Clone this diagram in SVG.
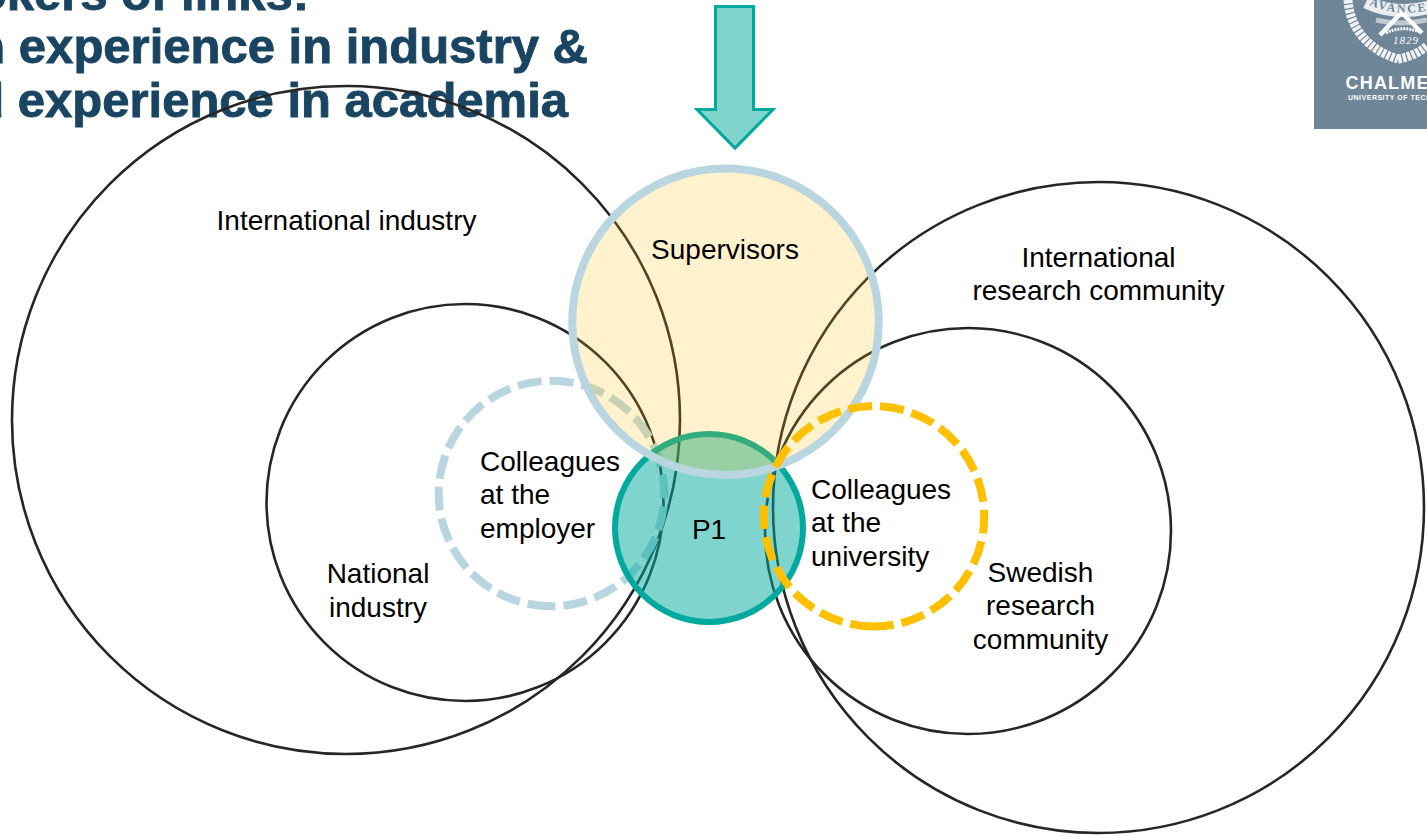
<svg xmlns="http://www.w3.org/2000/svg" width="1427" height="836" viewBox="0 0 1427 836">
<style>
text{font-family:"Liberation Sans",Arial,sans-serif}
.t{font-size:28px;fill:#000}
.h{font-size:49px;font-weight:700;fill:#1A4562;stroke:#1A4562;stroke-width:.9}
.c{fill:none;stroke:#262626;stroke-width:2.6}
.d{fill:none;stroke-width:8;stroke-dasharray:24 8}
</style>
<rect width="1427" height="836" fill="#fff"/>
<g id="title">
<text class="h" x="309" y="10" text-anchor="end">okers of links:</text>
<text class="h" x="588" y="63" text-anchor="end">n experience in industry &amp;</text>
<text class="h" x="568" y="117" text-anchor="end">d experience in academia</text>
</g>
<g id="logo">
<rect x="1314" y="0" width="113" height="129" fill="#6F8598"/>
<path d="M1348 0C1350 28 1368 50 1398 59" fill="none" stroke="#fff" stroke-opacity=".9" stroke-width="9" stroke-dasharray="3.500 1.200"/>
<path d="M1398 59C1410 57 1420 52 1427 46" fill="none" stroke="#fff" stroke-opacity=".9" stroke-width="9" stroke-dasharray="3.500 1.200"/>
<path d="M1366 2Q1396 16 1430 7" fill="none" stroke="#fff" stroke-opacity=".85" stroke-width="13"/>
<path d="M1376 20Q1400 26 1427 20" fill="none" stroke="#fff" stroke-opacity=".55" stroke-width="5"/>
<path d="M1380 35L1403 11M1422 33L1400 11" stroke="#fff" stroke-width="4.500" fill="none"/>
<path d="M1386 33Q1402 25 1420 32" stroke="#fff" stroke-width="3" stroke-dasharray="2 1" fill="none"/>
<path id="ribbon-line" d="M1369 5Q1396 17 1432 10" fill="none"/>
<text font-size="12" font-weight="700" fill="#6F8598" letter-spacing="2" style="font-family:'Liberation Serif',serif"><textPath href="#ribbon-line">AVANCEZ</textPath></text>
<text x="1393" y="44" font-size="11" font-style="italic" fill="#fff" letter-spacing="1" style="font-family:'Liberation Serif',serif">1829</text>
<text x="1345.500" y="89" font-size="18" font-weight="700" fill="#fff" letter-spacing="1.200">CHALMERS</text>
<text x="1348" y="100" font-size="7" font-weight="700" fill="#fff" letter-spacing=".5">UNIVERSITY OF TECHNOLOGY</text>
</g>
<g id="connectors">
<path id="arrow" d="M715.500 6.500H753.500V109.500H773L735 148L697 109.500H715.500Z" fill="#80D4CC" stroke="#00A99D" stroke-width="3"/>
</g>
<g id="international-industry"><circle class="c" cx="346" cy="420" r="334"/><text class="t" x="346.500" y="230" text-anchor="middle">International industry</text></g>
<g id="national-industry"><circle class="c" cx="465" cy="502.500" r="198.500"/><text class="t" x="378" y="583" text-anchor="middle">National</text><text class="t" x="378" y="617" text-anchor="middle">industry</text></g>
<g id="international-research"><circle class="c" cx="1098.500" cy="507.500" r="325.500"/><text class="t" x="1098.500" y="267" text-anchor="middle">International</text><text class="t" x="1098.500" y="300" text-anchor="middle">research community</text></g>
<g id="swedish-research"><circle class="c" cx="968" cy="531" r="203"/><text class="t" x="1040.500" y="582" text-anchor="middle">Swedish</text><text class="t" x="1040.500" y="615" text-anchor="middle">research</text><text class="t" x="1040.500" y="649" text-anchor="middle">community</text></g>
<g id="colleagues-employer"><circle class="d" cx="551.500" cy="493.500" r="112.800" stroke="#B9D6E0" transform="rotate(90 551.500 493.500)"/><text class="t" x="480" y="471">Colleagues</text><text class="t" x="480" y="504">at the</text><text class="t" x="480" y="538">employer</text></g>
<g id="p1"><circle cx="709" cy="528" r="94" fill="#00A99D" fill-opacity=".5" stroke="#00A99D" stroke-width="6"/><text class="t" x="709" y="539" text-anchor="middle">P1</text></g>
<g id="supervisors"><circle cx="725.500" cy="321.800" r="153.300" fill="#FFC000" fill-opacity=".2" stroke="#B9D6E0" stroke-width="8"/><text class="t" x="725" y="259" text-anchor="middle">Supervisors</text></g>
<g id="colleagues-university"><circle class="d" cx="874" cy="516.300" r="110.200" stroke="#FFC000" transform="rotate(90 874 516.300)"/><text class="t" x="811" y="499">Colleagues</text><text class="t" x="811" y="532">at the</text><text class="t" x="811" y="566">university</text></g>
</svg>
